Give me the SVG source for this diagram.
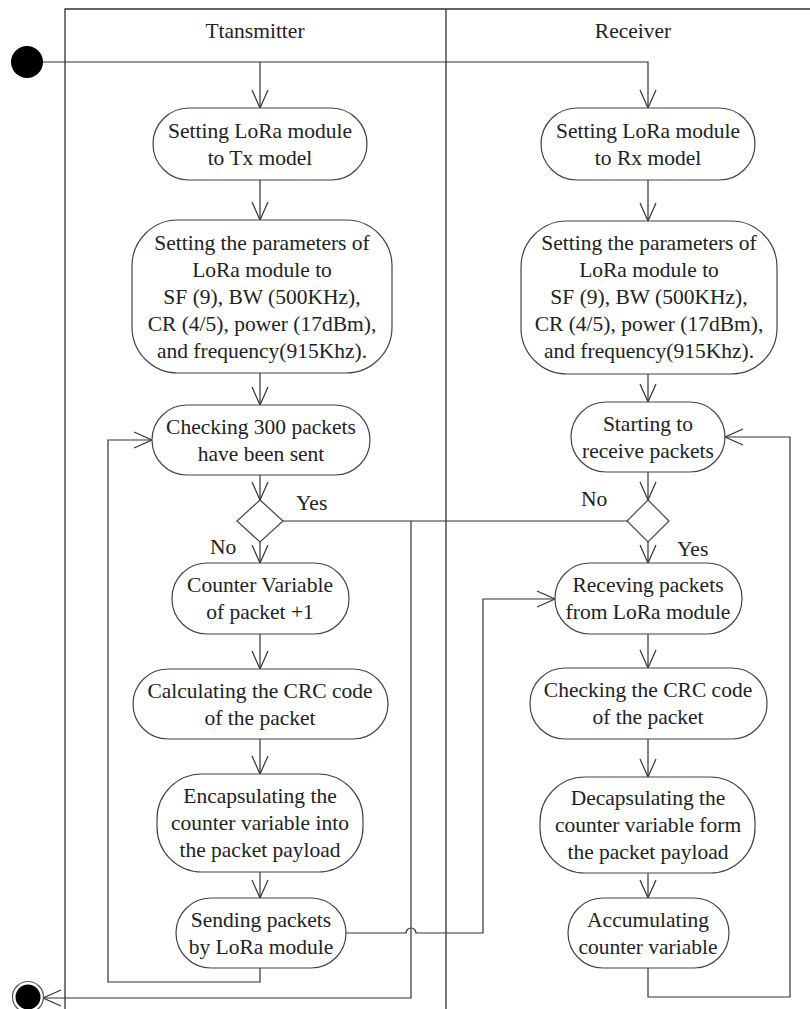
<svg xmlns="http://www.w3.org/2000/svg" width="810" height="1009" viewBox="0 0 810 1009">
<defs>
<marker id="arr" markerUnits="userSpaceOnUse" markerWidth="20" markerHeight="18" refX="18" refY="8" orient="auto" overflow="visible">
<path d="M0,0 L18,8 L0,16" fill="none" stroke="#333" stroke-width="1.2"/>
</marker>
<style>
.lane{fill:none;stroke:#333;stroke-width:1.3}
.node rect{fill:#fff;stroke:#444;stroke-width:1.2}
.node polygon{fill:#fff;stroke:#444;stroke-width:1.2}
text{font-family:"Liberation Serif","Times New Roman",serif;font-size:21.5px;fill:#222}
.c{text-anchor:middle}
.conn path{fill:none;stroke:#333;stroke-width:1.2}
.conn path.a{marker-end:url(#arr)}
</style>
</defs>
<rect width="810" height="1009" fill="#fff"/>
<g id="lanes">
<path class="lane" d="M810,9 H65 V1009 M446,9 V1009"/>
<text class="c" x="255" y="38">Ttansmitter</text>
<text class="c" x="633" y="38">Receiver</text>
</g>
<g id="connectors" class="conn">
<path d="M43,62 H260"/>
<path class="a" d="M260,62 V108"/>
<path class="a" d="M260,62 H648 V108"/>
<path class="a" d="M260,180 V220"/>
<path class="a" d="M260,373 V405"/>
<path class="a" d="M260,475 V500"/>
<path class="a" d="M260,542 V563"/>
<path class="a" d="M260,634 V669"/>
<path class="a" d="M260,739 V774"/>
<path class="a" d="M260,872 V898"/>
<path class="a" d="M260,968 V982 H108 V440 H152"/>
<path d="M283,521 H627"/>
<path class="a" d="M411,521 V998 H43"/>
<path class="a" d="M346,933 H406 A5,5 0 0 1 416,933 H483 V599 H555"/>
<path class="a" d="M648,180 V221"/>
<path class="a" d="M648,374 V402"/>
<path class="a" d="M648,472 V500"/>
<path class="a" d="M648,542 V563"/>
<path class="a" d="M648,634 V668"/>
<path class="a" d="M648,739 V777"/>
<path class="a" d="M648,873 V898"/>
<path class="a" d="M648,968 V997 H790 V437 H725"/>
<text x="296" y="510">Yes</text>
<text x="210" y="554">No</text>
<text x="581" y="506">No</text>
<text x="677" y="556">Yes</text>
</g>
<g id="start"><circle cx="27" cy="62" r="16" fill="#000"/></g>
<g id="end"><circle cx="28" cy="997" r="15.5" fill="#fff" stroke="#555" stroke-width="1.2"/><circle cx="28" cy="997" r="12.5" fill="#000"/></g>
<g id="tx1" class="node"><rect x="153" y="108" width="214" height="72" rx="36" ry="36"/><text class="c" x="260" y="137.5">Setting LoRa module</text><text class="c" x="260" y="164.5">to Tx model</text></g>
<g id="tx2" class="node"><rect x="132" y="220" width="260" height="153" rx="46" ry="46"/><text class="c" x="262" y="249.5">Setting the parameters of</text><text class="c" x="262" y="276.5">LoRa module to</text><text class="c" x="262" y="303.5">SF (9), BW (500KHz),</text><text class="c" x="262" y="330.5">CR (4/5), power (17dBm),</text><text class="c" x="262" y="357.5">and frequency(915Khz).</text></g>
<g id="tx3" class="node"><rect x="152" y="405" width="218" height="70" rx="35" ry="35"/><text class="c" x="261" y="434">Checking 300 packets</text><text class="c" x="261" y="461">have been sent</text></g>
<g id="txd" class="node"><polygon points="260,500 283,521 260,542 237,521"/></g>
<g id="tx4" class="node"><rect x="172" y="563" width="177" height="71" rx="35" ry="35"/><text class="c" x="260" y="592">Counter Variable</text><text class="c" x="260" y="619">of packet +1</text></g>
<g id="tx5" class="node"><rect x="133" y="669" width="255" height="70" rx="35" ry="35"/><text class="c" x="260" y="697.5">Calculating the CRC code</text><text class="c" x="260" y="724.5">of the packet</text></g>
<g id="tx6" class="node"><rect x="157" y="774" width="206" height="98" rx="45" ry="45"/><text class="c" x="260" y="803">Encapsulating the</text><text class="c" x="260" y="830">counter variable into</text><text class="c" x="260" y="857">the packet payload</text></g>
<g id="tx7" class="node"><rect x="176" y="898" width="170" height="70" rx="35" ry="35"/><text class="c" x="261" y="927">Sending packets</text><text class="c" x="261" y="954">by LoRa module</text></g>
<g id="rx1" class="node"><rect x="541" y="108" width="214" height="72" rx="36" ry="36"/><text class="c" x="648" y="137.5">Setting LoRa module</text><text class="c" x="648" y="164.5">to Rx model</text></g>
<g id="rx2" class="node"><rect x="521" y="221" width="256" height="153" rx="46" ry="46"/><text class="c" x="649" y="250">Setting the parameters of</text><text class="c" x="649" y="277">LoRa module to</text><text class="c" x="649" y="304">SF (9), BW (500KHz),</text><text class="c" x="649" y="331">CR (4/5), power (17dBm),</text><text class="c" x="649" y="358">and frequency(915Khz).</text></g>
<g id="rx3" class="node"><rect x="571" y="402" width="154" height="70" rx="35" ry="35"/><text class="c" x="648" y="431">Starting to</text><text class="c" x="648" y="458">receive packets</text></g>
<g id="rxd" class="node"><polygon points="648,500 669,521 648,542 627,521"/></g>
<g id="rx4" class="node"><rect x="555" y="563" width="187" height="71" rx="35" ry="35"/><text class="c" x="648" y="592">Receving packets</text><text class="c" x="648" y="619">from LoRa module</text></g>
<g id="rx5" class="node"><rect x="530" y="668" width="237" height="71" rx="35" ry="35"/><text class="c" x="648" y="697">Checking the CRC code</text><text class="c" x="648" y="724">of the packet</text></g>
<g id="rx6" class="node"><rect x="540" y="777" width="215" height="96" rx="45" ry="45"/><text class="c" x="648" y="805">Decapsulating the</text><text class="c" x="648" y="832">counter variable form</text><text class="c" x="648" y="859">the packet payload</text></g>
<g id="rx7" class="node"><rect x="568" y="898" width="161" height="70" rx="35" ry="35"/><text class="c" x="648" y="927">Accumulating</text><text class="c" x="648" y="954">counter variable</text></g>
</svg>
